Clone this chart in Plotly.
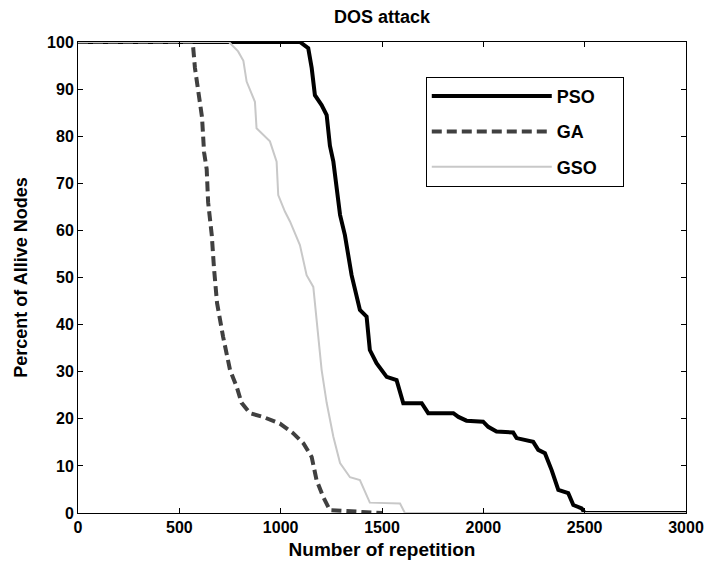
import plotly.graph_objects as go

# Survival curves under DOS attack: percent of alive nodes vs. repetition
pso_x = [0, 1095, 1136, 1153, 1169, 1202, 1227, 1243, 1260, 1276, 1293, 1317, 1334, 1350,
         1391, 1424, 1440, 1473, 1523, 1572, 1605, 1696, 1728, 1852, 1877, 1917, 1999,
         2024, 2065, 2147, 2164, 2205, 2246, 2271, 2304, 2337, 2370, 2419, 2444, 2485,
         2500, 3000]
pso_y = [100, 100, 98.7, 94.5, 88.7, 86.6, 84.5, 78, 74.6, 69, 63.3, 59, 54.8, 50.5,
         43.1, 41.7, 34.6, 31.8, 28.9, 28.2, 23.3, 23.3, 21.2, 21.2, 20.4, 19.6, 19.4,
         18.3, 17.3, 17.1, 15.9, 15.5, 15.1, 13.4, 12.7, 9.1, 4.9, 4.2, 1.7, 1,
         0, 0]

ga_x = [0, 566, 577, 602, 612, 622, 635, 642, 660, 671, 686, 716, 750, 783, 807, 848,
        913, 996, 1060, 1112, 1153, 1177, 1210, 1243, 1500]
ga_y = [100, 100, 94.5, 87, 84, 76.6, 73, 66, 59, 52, 44.6, 37.4, 30.4, 26.8, 23.4, 21.2,
        20.4, 19, 17, 14.8, 11.9, 7, 3.4, 0.6, 0]

gso_x = [0, 745, 790, 816, 832, 873, 881, 947, 980, 988, 1021, 1046, 1095, 1128, 1161,
         1177, 1202, 1227, 1260, 1293, 1342, 1391, 1424, 1440, 1589, 1613, 3000]
gso_y = [100, 100, 98, 96, 91.6, 87.3, 81.7, 78.9, 74.6, 67.5, 64, 61.9, 56.9, 50.5, 48,
         41, 30.4, 23.4, 16.2, 10.6, 7.6, 7, 3.5, 2.2, 2, 0, 0]

x_ticks = [0, 500, 1000, 1500, 2000, 2500, 3000]
y_ticks = [0, 10, 20, 30, 40, 50, 60, 70, 80, 90, 100]

FONT = "Liberation Sans, Arial, sans-serif"
PAD = "\u00a0" * 4  # extra room after legend labels

fig = go.Figure()
fig.add_trace(go.Scatter(x=pso_x, y=pso_y, mode="lines", name="PSO" + PAD, legendgroup="a",
                         line=dict(color="#000000", width=4)))
fig.add_trace(go.Scatter(x=ga_x, y=ga_y, mode="lines", name="GA" + PAD, legendgroup="b",
                         line=dict(color="#404040", width=4, dash="10px,5px")))
fig.add_trace(go.Scatter(x=gso_x, y=gso_y, mode="lines", name="GSO" + PAD, legendgroup="c",
                         line=dict(color="#c8c8c8", width=2)))

axis_common = dict(
    showline=True, linecolor="#000000", linewidth=1, mirror="ticks",
    ticks="inside", ticklen=5, tickcolor="#000000", tickwidth=1,
    showgrid=False, zeroline=False, automargin=False,
    tickfont=dict(family=FONT, size=16, color="#000000", weight="bold"),
)

fig.update_layout(
    width=706, height=565,
    margin=dict(l=78, r=20, t=42, b=52),
    paper_bgcolor="white", plot_bgcolor="white",
    title=dict(text="DOS attack", xref="paper", x=0.5, xanchor="center",
               y=0.97, yanchor="middle",
               font=dict(family=FONT, size=18, color="#000000", weight="bold")),
    xaxis=dict(axis_common, range=[0, 3000], tickvals=x_ticks,
               title=dict(text="Number of repetition", standoff=7,
                          font=dict(family=FONT, size=19, color="#000000", weight="bold"))),
    yaxis=dict(axis_common, range=[0, 100], tickvals=y_ticks,
               title=dict(text="Percent of Allive Nodes", standoff=14,
                          font=dict(family=FONT, size=18, color="#000000", weight="bold"))),
    legend=dict(x=0.572, y=0.926, xanchor="left", yanchor="top",
                bgcolor="white", bordercolor="#000000", borderwidth=1,
                itemwidth=120, tracegroupgap=9,
                font=dict(family=FONT, size=18, color="#000000", weight="bold")),
    showlegend=True,
)

fig.write_html("out.html")
